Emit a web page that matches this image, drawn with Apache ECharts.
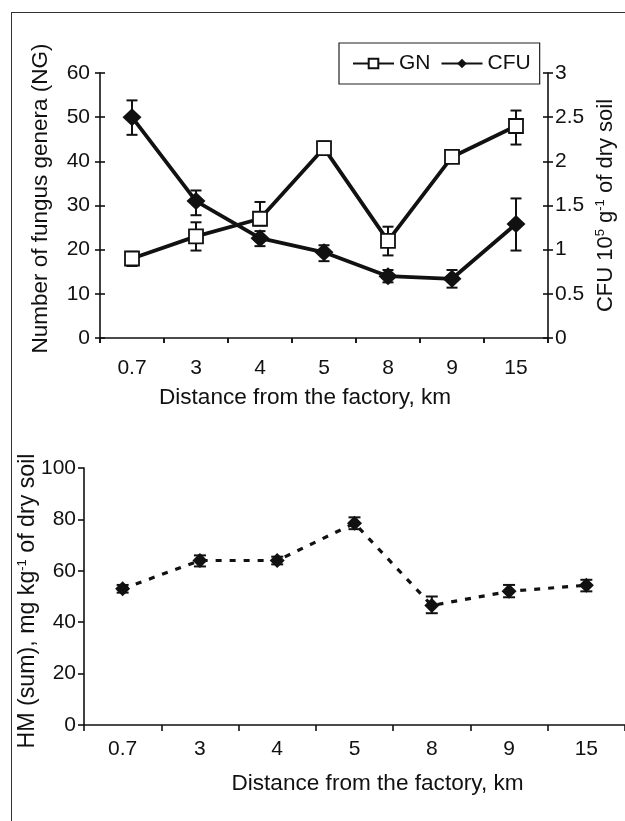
<!DOCTYPE html>
<html><head><meta charset="utf-8">
<script src="https://cdn.jsdelivr.net/npm/echarts@6/dist/echarts.min.js"></script>
<style>
html,body{margin:0;padding:0;background:#fff}
#c{width:625px;height:821px;position:absolute;left:0;top:0}
#frame{position:absolute;left:11px;top:12px;width:614px;height:809px;border-left:1px solid #333;border-top:1px solid #333;pointer-events:none}
</style></head><body><div id="c"></div><div id="frame"></div>
<script>
// Categories (distance from the factory, km)
const categories = ['0.7', '3', '4', '5', '8', '9', '15'];

// Top chart: number of fungus genera (GN), left axis
const gnMean = [18, 23, 27, 43, 22, 41, 48];
const gnLow  = [16.3, 19.8, 25.5, 41.5, 18.7, 39.8, 43.8];
const gnHigh = [19.5, 26.2, 30.8, 44.5, 25.2, 42.2, 51.5];

// Top chart: CFU 10^5 g^-1 of dry soil, right axis
const cfuMean = [2.5, 1.55, 1.13, 0.97, 0.70, 0.67, 1.29];
const cfuLow  = [2.30, 1.39, 1.04, 0.87, 0.63, 0.57, 0.99];
const cfuHigh = [2.69, 1.67, 1.21, 1.05, 0.77, 0.77, 1.58];

// Bottom chart: HM (sum), mg kg^-1 of dry soil
const hmMean = [53, 64, 64, 78.5, 46.5, 52, 54.4];
const hmLow  = [51.5, 61.7, 62.5, 76.2, 43.5, 49.7, 52.0];
const hmHigh = [54.5, 66.0, 65.5, 80.8, 50.0, 54.5, 56.5];

// Axis ticks
const leftTicks = {min: 0, max: 60, interval: 10};
const rightTicks = {min: 0, max: 3, interval: 0.5};
const hmTicks = {min: 0, max: 100, interval: 20};

const FONT = 'Liberation Sans, Arial, Helvetica, sans-serif';
const INK = '#111';

function errRows(lo, hi) { return categories.map((c, i) => [i, lo[i], hi[i]]); }
function errorBar(capHalf) {
  return function (params, api) {
    const x = api.value(0), lo = api.value(1), hi = api.value(2);
    const pLo = api.coord([x, lo]), pHi = api.coord([x, hi]);
    const st = {stroke: INK, lineWidth: 2};
    return {type: 'group', children: [
      {type: 'line', shape: {x1: pLo[0], y1: pLo[1], x2: pHi[0], y2: pHi[1]}, style: st},
      {type: 'line', shape: {x1: pLo[0] - capHalf, y1: pLo[1], x2: pLo[0] + capHalf, y2: pLo[1]}, style: st},
      {type: 'line', shape: {x1: pHi[0] - capHalf, y1: pHi[1], x2: pHi[0] + capHalf, y2: pHi[1]}, style: st}
    ]};
  };
}

const axisLine = {show: true, lineStyle: {color: INK, width: 1.6}};
const labelStyle = {fontSize: 21, color: INK, fontFamily: FONT};
const supRich = {sup: {fontSize: 13, verticalAlign: 'top', color: INK, fontFamily: FONT, lineHeight: 24}};

function catAxis(grid, opts) {
  return Object.assign({
    type: 'category', gridIndex: grid, data: categories, boundaryGap: true,
    axisLine: axisLine, splitLine: {show: false}, nameMoveOverlap: false
  }, opts);
}
function valAxis(grid, ticks, opts) {
  return Object.assign({
    type: 'value', gridIndex: grid, min: ticks.min, max: ticks.max, interval: ticks.interval,
    axisLine: axisLine, splitLine: {show: false}, nameMoveOverlap: false
  }, opts);
}
const hiddenLabel = {show: false};

const option = {
  animation: false,
  backgroundColor: '#fff',
  textStyle: {fontFamily: FONT, color: INK},
  grid: [
    {left: 100, right: 75, top: 73, bottom: 483},
    {left: 84, right: 0, top: 468, bottom: 96}
  ],
  legend: {
    data: ['GN', 'CFU'], left: 339, top: 43, orient: 'horizontal',
    itemWidth: 41, itemHeight: 12, itemGap: 10,
    padding: [10, 9, 10, 13], borderColor: '#222', borderWidth: 1.2,
    textStyle: {fontSize: 21, color: INK, fontFamily: FONT}
  },
  xAxis: [
    catAxis(0, {
      axisTick: {show: true, inside: false, length: 5, lineStyle: {color: INK, width: 1.6}},
      axisLabel: Object.assign({margin: 20}, labelStyle),
      name: 'Distance from the factory, km', nameLocation: 'middle', nameGap: 48,
      nameTextStyle: {fontSize: 22.6, color: INK, fontFamily: FONT, padding: [0, 38, 0, 0]}
    }),
    catAxis(0, {
      axisLine: {show: false},
      axisTick: {show: true, inside: true, length: 5, lineStyle: {color: INK, width: 1.6}},
      axisLabel: hiddenLabel
    }),
    catAxis(1, {
      axisTick: {show: true, inside: false, length: 6, lineStyle: {color: INK, width: 1.6}},
      axisLabel: Object.assign({margin: 14}, labelStyle),
      name: 'Distance from the factory, km', nameLocation: 'middle', nameGap: 47,
      nameTextStyle: {fontSize: 22.6, color: INK, fontFamily: FONT, padding: [0, 0, 0, 46]}
    })
  ],
  yAxis: [
    valAxis(0, leftTicks, {
      position: 'left',
      axisTick: {show: true, inside: false, length: 5, lineStyle: {color: INK, width: 1.6}},
      axisLabel: Object.assign({margin: 10}, labelStyle),
      name: 'Number of fungus genera (NG)', nameLocation: 'middle', nameGap: 48, nameRotate: 90,
      nameTextStyle: {fontSize: 22.5, color: INK, fontFamily: FONT, padding: [0, 0, 0, 14]}
    }),
    valAxis(0, rightTicks, {
      position: 'right',
      axisTick: {show: true, inside: false, length: 5, lineStyle: {color: INK, width: 1.6}},
      axisLabel: Object.assign({margin: 7}, labelStyle),
      name: 'CFU 10{sup|5} g{sup|-1} of dry soil', nameLocation: 'middle', nameGap: 46, nameRotate: 90,
      nameTextStyle: {fontSize: 22, color: INK, fontFamily: FONT, rich: supRich}
    }),
    valAxis(0, leftTicks, {
      position: 'left', axisLine: {show: false},
      axisTick: {show: true, inside: true, length: 5, lineStyle: {color: INK, width: 1.6}},
      axisLabel: hiddenLabel
    }),
    valAxis(0, rightTicks, {
      position: 'right', axisLine: {show: false},
      axisTick: {show: true, inside: true, length: 5, lineStyle: {color: INK, width: 1.6}},
      axisLabel: hiddenLabel
    }),
    valAxis(1, hmTicks, {
      position: 'left',
      axisTick: {show: true, inside: false, length: 6, lineStyle: {color: INK, width: 1.6}},
      axisLabel: Object.assign({margin: 8}, labelStyle),
      name: 'HM (sum), mg kg{sup|-1} of dry soil', nameLocation: 'middle', nameGap: 44, nameRotate: 90,
      nameTextStyle: {fontSize: 23.2, color: INK, fontFamily: FONT, rich: supRich, padding: [0, 9, 0, 0]}
    })
  ],
  series: [
    {
      type: 'custom', name: 'GN error', xAxisIndex: 0, yAxisIndex: 0, z: 1,
      renderItem: errorBar(5.5), data: errRows(gnLow, gnHigh), encode: {x: 0, y: [1, 2]}
    },
    {
      type: 'custom', name: 'CFU error', xAxisIndex: 0, yAxisIndex: 1, z: 1,
      renderItem: errorBar(5.5), data: errRows(cfuLow, cfuHigh), encode: {x: 0, y: [1, 2]}
    },
    {
      type: 'line', name: 'GN', xAxisIndex: 0, yAxisIndex: 0, z: 3, data: gnMean,
      symbol: 'rect', symbolSize: 14,
      lineStyle: {color: INK, width: 3.8},
      itemStyle: {color: '#fff', borderColor: INK, borderWidth: 1.8}
    },
    {
      type: 'line', name: 'CFU', xAxisIndex: 0, yAxisIndex: 1, z: 3, data: cfuMean,
      symbol: 'diamond', symbolSize: [19, 18],
      lineStyle: {color: INK, width: 3.8},
      itemStyle: {color: INK, borderColor: INK, borderWidth: 0}
    },
    {
      type: 'custom', name: 'HM error', xAxisIndex: 2, yAxisIndex: 4, z: 1,
      renderItem: errorBar(6), data: errRows(hmLow, hmHigh), encode: {x: 0, y: [1, 2]}
    },
    {
      type: 'line', name: 'HM', xAxisIndex: 2, yAxisIndex: 4, z: 3, data: hmMean,
      symbol: 'diamond', symbolSize: [15, 15],
      lineStyle: {color: INK, width: 3.2, type: [6, 8]},
      itemStyle: {color: INK, borderWidth: 0}
    }
  ]
};

const chart = echarts.init(document.getElementById('c'), null, {renderer: 'canvas'});
chart.setOption(option);
</script>
</body></html>
